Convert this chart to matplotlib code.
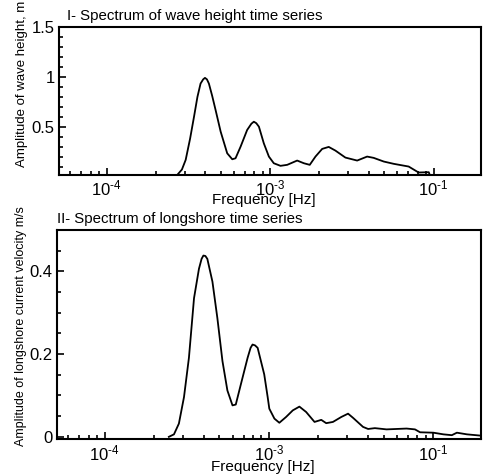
import numpy as np
import matplotlib
matplotlib.use('Agg')
import matplotlib.pyplot as plt
from matplotlib.ticker import FixedLocator, LogLocator, MultipleLocator, NullFormatter

plt.rcParams['font.family'] = ['Liberation Sans', 'DejaVu Sans']
plt.rcParams['mathtext.fontset'] = 'custom'
plt.rcParams['mathtext.rm'] = 'Liberation Sans'

# wave height spectrum (log10 frequency, amplitude m)
logf_wave = [-3.62, -3.568, -3.540, -3.517, -3.490, -3.466, -3.445, -3.426, -3.410,
             -3.399, -3.387, -3.375, -3.355, -3.334, -3.303,
             -3.263, -3.232, -3.212, -3.181, -3.141, -3.115, -3.100, -3.085, -3.069,
             -3.039, -3.008, -2.978, -2.937, -2.896, -2.835, -2.794, -2.758, -2.723,
             -2.682, -2.642, -2.601, -2.540, -2.468, -2.407, -2.367, -2.305, -2.244,
             -2.153, -2.092, -2.030, -2.020]
amp_wave = [0.0, 0.017, 0.07, 0.167, 0.38, 0.60, 0.80, 0.933, 0.975,
            0.99, 0.975, 0.933, 0.81, 0.667, 0.45,
            0.233, 0.173, 0.183, 0.30, 0.467, 0.53, 0.55, 0.535, 0.50,
            0.333, 0.20, 0.133, 0.107, 0.117, 0.16, 0.133, 0.117, 0.20,
            0.277, 0.297, 0.26, 0.19, 0.16, 0.20, 0.187, 0.15, 0.127,
            0.10, 0.04, 0.043, 0.0]

# longshore current spectrum (log10 frequency, amplitude m/s)
logf_curr = [-3.609, -3.578, -3.548, -3.517, -3.487, -3.456, -3.426, -3.410, -3.399,
             -3.387, -3.375, -3.344, -3.314, -3.283, -3.253, -3.222, -3.202, -3.171,
             -3.130, -3.112, -3.100, -3.085, -3.069, -3.029, -3.008, -2.998, -2.967,
             -2.937, -2.896, -2.855, -2.815, -2.774, -2.723, -2.682, -2.652, -2.611,
             -2.560, -2.519, -2.489, -2.428, -2.397, -2.356, -2.285, -2.163, -2.112,
             -2.081, -2.000, -1.939, -1.888, -1.857, -1.796, -1.715]
amp_curr = [0.0, 0.006, 0.032, 0.096, 0.191, 0.335, 0.406, 0.430, 0.438,
            0.437, 0.430, 0.375, 0.287, 0.183, 0.112, 0.076, 0.078, 0.127,
            0.191, 0.215, 0.223, 0.221, 0.215, 0.151, 0.096, 0.068, 0.044,
            0.034, 0.048, 0.064, 0.073, 0.060, 0.036, 0.041, 0.033, 0.036,
            0.048, 0.056, 0.046, 0.024, 0.019, 0.021, 0.018, 0.020, 0.018,
            0.011, 0.010, 0.006, 0.004, 0.010, 0.006, 0.003]

xticks = [1e-4, 1e-3, 1e-2]
xticklabels = [r'$\mathregular{10^{\text{-}4}}$', r'$\mathregular{10^{\text{-}3}}$',
               r'$\mathregular{10^{\text{-}1}}$']

fig = plt.figure(figsize=(4.83, 4.75), dpi=100)
ax1 = fig.add_axes([0.122, 0.632, 0.874, 0.311])
ax2 = fig.add_axes([0.117, 0.076, 0.879, 0.440])


def style(ax):
    ax.set_xscale('log')
    ax.set_xlim(5.1e-5, 1.95e-2)
    ax.xaxis.set_major_locator(FixedLocator(xticks))
    ax.set_xticklabels(xticklabels)
    ax.xaxis.set_minor_locator(LogLocator(base=10, subs=np.arange(2, 10)))
    ax.xaxis.set_minor_formatter(NullFormatter())
    ax.tick_params(axis='both', which='both', direction='in', width=1.2)
    ax.tick_params(axis='both', which='major', length=5, labelsize=12, pad=3)
    ax.tick_params(axis='both', which='minor', length=3)
    for s in ax.spines.values():
        s.set_linewidth(1.5)
    ax.set_xlabel('Frequency [Hz]', fontsize=11)


ax1.plot(10 ** np.array(logf_wave), amp_wave, color='black', linewidth=1.3)
style(ax1)
ax1.xaxis.set_label_coords(0.486, -0.125)
ax1.set_ylim(0.017, 1.5)
ax1.set_yticks([0.5, 1.0, 1.5])
ax1.set_yticklabels(['0.5', '1', '1.5'])
ax1.yaxis.set_minor_locator(MultipleLocator(0.1))
ax1.set_ylabel('Amplitude of wave height, m', fontsize=9.5)
ax1.yaxis.set_label_coords(-0.074, 0.615)
ax1.text(0.02, 1.03, 'I- Spectrum of wave height time series', transform=ax1.transAxes,
         fontsize=10.8, ha='left', va='bottom')

ax2.plot(10 ** np.array(logf_curr), amp_curr, color='black', linewidth=1.3)
style(ax2)
ax2.xaxis.set_label_coords(0.486, -0.102)
ax2.set_ylim(-0.005, 0.5)
ax2.set_yticks([0.0, 0.2, 0.4])
ax2.set_yticklabels(['0', '0.2', '0.4'])
ax2.yaxis.set_minor_locator(MultipleLocator(0.05))
ax2.set_ylabel('Amplitude of longshore current velocity m/s', fontsize=9)
ax2.yaxis.set_label_coords(-0.069, 0.54)
ax2.text(0.0, 1.02, 'II- Spectrum of longshore time series', transform=ax2.transAxes,
         fontsize=10.8, ha='left', va='bottom')

plt.savefig('out.png', dpi=100)
